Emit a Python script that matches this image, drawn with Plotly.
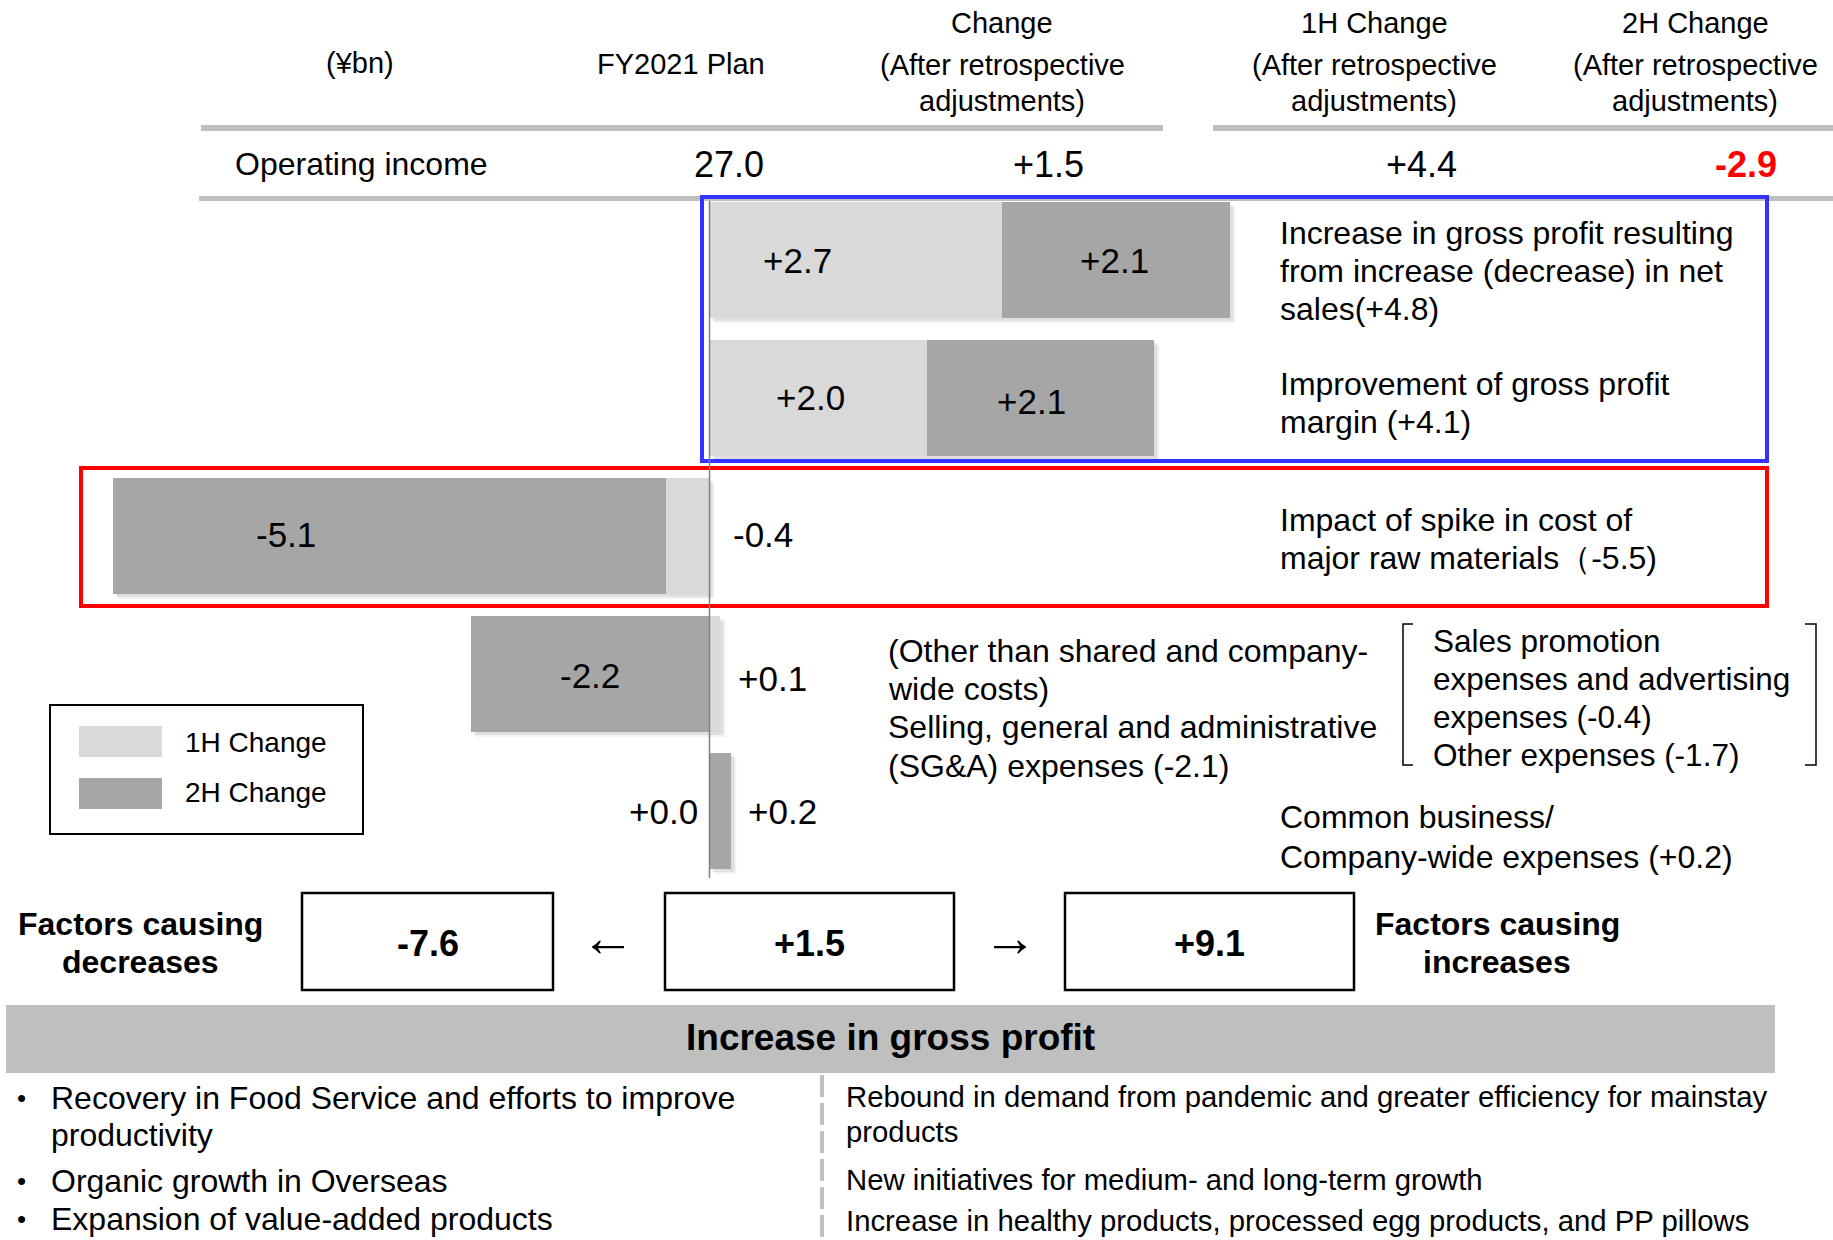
import plotly.graph_objects as go

W, H = 1833, 1240
FONT = "Liberation Sans, Arial, sans-serif"

# ---------------- data ----------------
row_names = [
    "Net sales effect",
    "Gross profit margin",
    "Raw material costs",
    "SG&A (excl. common)",
    "Common / company-wide",
]
change_1h = [2.7, 2.0, -0.4, 0.1, 0.0]
change_2h = [2.1, 2.1, -5.1, -2.2, 0.2]

header_cols = ["FY2021 Plan", "Change", "1H Change", "2H Change"]
operating_income = [27.0, 1.5, 4.4, -2.9]

factor_totals = [-7.6, 1.5, 9.1]  # decreases, net change, increases
series_names = ["1H Change", "2H Change"]

# ---------------- layout helpers ----------------
C1H, C2H = "#d9d9d9", "#a6a6a6"
ZERO_PX, UNIT_PX = 709.5, 108.5          # zero line position and pixels per ¥bn
row_y = [260, 398, 536, 674, 811]        # bar centres (pixel rows)
BAR_H = 116


def X(px):
    return px / W


def Y(py):
    return 1 - py / H


ann = []
shapes = []


def txt(s, x, y, size, anchor="left", bold=False, color="#000000", family=FONT):
    ann.append(dict(
        text=f"<b>{s}</b>" if bold else s,
        x=X(x), y=Y(y), xref="paper", yref="paper",
        xanchor=anchor, yanchor="middle", showarrow=False,
        font=dict(family=family, size=size, color=color),
    ))


def rect(x0, y0, x1, y1, fill=None, line=None, width=0, layer="above"):
    shapes.append(dict(
        type="rect", xref="paper", yref="paper",
        x0=X(x0), x1=X(x1), y0=Y(y1), y1=Y(y0),
        fillcolor=fill if fill else "rgba(0,0,0,0)",
        line=dict(color=line if line else "rgba(0,0,0,0)", width=width),
        layer=layer,
    ))


def path(points, color="#000000", width=1.5):
    d = "M " + " L ".join(f"{X(px)} {Y(py)}" for px, py in points)
    shapes.append(dict(type="path", xref="paper", yref="paper", path=d,
                       line=dict(color=color, width=width), layer="above"))


def fmt(v):
    return f"{v:+.1f}"


# ---------------- bars ----------------
fig = go.Figure()
fig.add_trace(go.Bar(y=row_y, x=change_1h, orientation="h", width=BAR_H,
                     marker=dict(color=C1H, line=dict(width=0)),
                     name=series_names[0], hoverinfo="skip"))
fig.add_trace(go.Bar(y=row_y, x=change_2h, orientation="h", width=BAR_H,
                     marker=dict(color=C2H, line=dict(width=0)),
                     name=series_names[1], hoverinfo="skip"))

# soft drop shadow behind each stacked bar, spanning its extent
for a, b, yc in zip(change_1h, change_2h, row_y):
    lo = sum(v for v in (a, b) if v < 0)
    hi = sum(v for v in (a, b) if v > 0)
    x0 = ZERO_PX + lo * UNIT_PX
    x1 = ZERO_PX + hi * UNIT_PX
    for off, alpha in ((5, 0.05), (3, 0.08)):
        rect(x0 + off, yc - BAR_H / 2 + off, x1 + off, yc + BAR_H / 2 + off,
             fill=f"rgba(0,0,0,{alpha})", layer="below")

# bar value labels
lab_1h = [(797, 261, "center"), (810, 397, "center"), (731, 534, "left"),
          (772, 678, "center"), (700, 812, "right")]
lab_2h = [(1114, 261, "center"), (1031, 401, "center"), (286, 534, "center"),
          (590, 675, "center"), (782, 812, "center")]
for v, (lx, ly, a) in zip(change_1h, lab_1h):
    txt(fmt(v), lx, ly, 35, a)
for v, (lx, ly, a) in zip(change_2h, lab_2h):
    txt(fmt(v), lx, ly, 35, a)

# ---------------- header table ----------------
rect(201, 125, 1163, 131, fill="#bfbfbf", layer="below")
rect(1213, 125, 1833, 131, fill="#bfbfbf", layer="below")
rect(199, 196, 1833, 201, fill="#bfbfbf", layer="below")

txt("(¥bn)", 360, 63, 29, "center")
txt(header_cols[0], 681, 64, 29, "center")
col_cx = [1002, 1374, 1695]
for name, cx in zip(header_cols[1:], col_cx):
    txt(name, cx, 23, 29, "center")
    txt("(After retrospective", cx, 65, 29, "center")
    txt("adjustments)", cx, 101, 29, "center")

txt("Operating income", 233, 164, 32, "left")
val_right = [766, 1086, 1459, 1779]
for i, (v, rx) in enumerate(zip(operating_income, val_right)):
    if i == 0:
        txt(f"{v:.1f}", rx, 164, 36, "right")
    elif v < 0:
        txt(fmt(v), rx, 164, 36, "right", bold=True, color="#ff0000")
    else:
        txt(fmt(v), rx, 164, 36, "right")

# ---------------- highlight frames & zero line ----------------
rect(702, 197, 1767, 461, line="#3333ff", width=4)
rect(81, 468, 1767, 606, line="#ff0000", width=4)
shapes.append(dict(type="line", xref="x", yref="y", x0=0, x1=0, y0=201, y1=878,
                   line=dict(color="#808080", width=1.5), layer="above"))

# ---------------- descriptions ----------------
DX = 1278
txt("Increase in gross profit resulting", DX, 233, 32)
txt("from increase (decrease) in net", DX, 271, 32)
txt("sales(+4.8)", DX, 309, 32)
txt("Improvement of gross profit", DX, 384, 32)
txt("margin (+4.1)", DX, 422, 32)
txt("Impact of spike in cost of", DX, 520, 32)
txt("major raw materials（-5.5)", DX, 558, 32)

txt("(Other than shared and company-", 886, 651, 32)
txt("wide costs)", 886, 689, 32)
txt("Selling, general and administrative", 886, 727, 32)
txt("(SG&A) expenses (-2.1)", 886, 766, 32)

txt("Sales promotion", 1431, 641, 31.5)
txt("expenses and advertising", 1431, 679, 31.5)
txt("expenses (-0.4)", 1431, 717, 31.5)
txt("Other expenses (-1.7)", 1431, 755, 31.5)
path([(1413, 624), (1403, 624), (1403, 765), (1413, 765)])
path([(1805, 624), (1816, 624), (1816, 765), (1805, 765)])

txt("Common business/", DX, 817, 32)
txt("Company-wide expenses (+0.2)", DX, 857, 32)

# ---------------- legend ----------------
rect(50, 705, 363, 834, line="#000000", width=2)
rect(79, 726, 162, 757, fill=C1H)
rect(79, 778, 162, 809, fill=C2H)
txt(series_names[0], 183, 742, 28)
txt(series_names[1], 183, 792, 28)

# ---------------- factor summary ----------------
txt("Factors causing", 140, 924, 32, "center", bold=True)
txt("decreases", 140, 962, 32, "center", bold=True)
txt("Factors causing", 1497, 924, 32, "center", bold=True)
txt("increases", 1497, 962, 32, "center", bold=True)
box_x = [(302, 553), (665, 954), (1065, 1354)]
for v, (x0, x1) in zip(factor_totals, box_x):
    rect(x0, 893, x1, 990, line="#000000", width=2.5)
    txt(fmt(v), (x0 + x1) / 2, 943, 36, "center", bold=True)
txt("←", 608, 937, 54, "center")
txt("→", 1010, 937, 54, "center")

# ---------------- gross profit banner & bullets ----------------
rect(6, 1005, 1775, 1073, fill="#bfbfbf", layer="below")
txt("Increase in gross profit", 890, 1037, 37, "center", bold=True)

left_lines = [
    ("•", "Recovery in Food Service and efforts to improve", 1098),
    ("", "productivity", 1135),
    ("•", "Organic growth in Overseas", 1181),
    ("•", "Expansion of value-added products", 1219),
]
for b, s, y in left_lines:
    if b:
        txt(b, 21, y, 26, "center")
    txt(s, 49, y, 32)

right_lines = [
    ("Rebound in demand from pandemic and greater efficiency for mainstay", 1096),
    ("products", 1131),
    ("New initiatives for medium- and long-term growth", 1179),
    ("Increase in healthy products, processed egg products, and PP pillows", 1220),
]
for s, y in right_lines:
    txt(s, 844, y, 29.3)
shapes.append(dict(type="line", xref="paper", yref="paper",
                   x0=X(822), x1=X(822), y0=Y(1075), y1=Y(1240),
                   line=dict(color="#c0c0c0", width=4, dash="22px,6px"), layer="below"))

# ---------------- figure layout ----------------
fig.update_layout(
    width=W, height=H,
    margin=dict(l=0, r=0, t=0, b=0),
    paper_bgcolor="white", plot_bgcolor="white",
    barmode="relative", bargap=0,
    showlegend=False, hovermode=False,
    xaxis=dict(range=[-ZERO_PX / UNIT_PX, (W - ZERO_PX) / UNIT_PX], visible=False,
               fixedrange=True),
    yaxis=dict(range=[H, 0], visible=False, fixedrange=True),
    annotations=ann, shapes=shapes,
    font=dict(family=FONT),
)

fig.write_html("out.html")
